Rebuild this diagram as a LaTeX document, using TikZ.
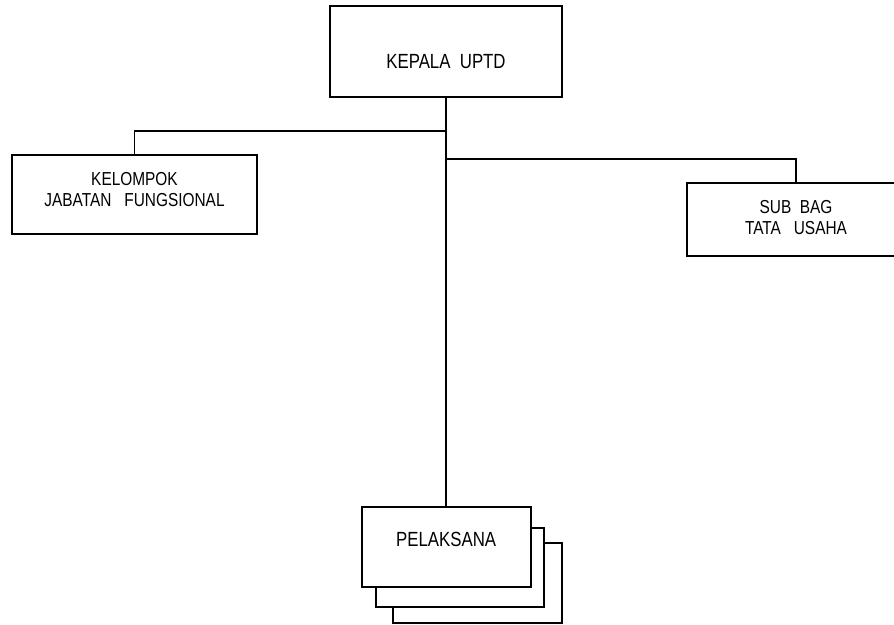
\documentclass[tikz,border=0pt]{standalone}
\usepackage{fontspec}
\setmainfont{Liberation Sans}
\newfontfamily\narrowsans[FakeStretch=0.82]{Liberation Sans}
\usetikzlibrary{calc}

\tikzset{
  unitbox/.style={draw=black, line width=1.8pt, fill=white, inner sep=0pt},
  lbl/.style={font=\narrowsans\fontsize{20.5}{21}\selectfont, align=center, inner sep=0pt, text=black},
  lblsmall/.style={font=\narrowsans\fontsize{18.8}{20.8}\selectfont, align=center, inner sep=0pt, text=black},
  link/.style={draw=black, line width=1.8pt}
}

\begin{document}
\begin{tikzpicture}[x=1pt, y=-1pt]
  \useasboundingbox (0,0) rectangle (894,624);
  \clip (0,0) rectangle (894,624);

  % head of the unit
  \node[unitbox, minimum width=232pt, minimum height=91pt] (kepala) at (446,51.2) {};
  \node[lbl] (kepalaText) at ($(kepala.center)+(0,10)$) {KEPALA\ \ UPTD};

  % functional group
  \node[unitbox, minimum width=245pt, minimum height=79pt] (kelompok) at (134.5,194.5) {};
  \node[lblsmall] (kelompokText) at ($(kelompok.center)+(0,-5)$) {KELOMPOK\\JABATAN\ \ \ FUNGSIONAL};

  % administration section
  \node[unitbox, minimum width=218pt, minimum height=72.7pt] (subbag) at (796,219.6) {};
  \node[lblsmall] (subbagText) at ($(subbag.center)+(0,-2)$) {SUB\ \ BAG\\TATA\ \ \ USAHA};

  % staff: three stacked sheets
  \node[unitbox, minimum width=168.5pt, minimum height=79.4pt] (pel3) at (477.5,583) {};
  \node[unitbox, minimum width=168pt, minimum height=79pt] (pel2) at (460,567.8) {};
  \node[unitbox, minimum width=169pt, minimum height=79.4pt] (pel1) at (446.2,547) {};
  \node[lbl] (pelText) at ($(pel1.center)+(0,-7.7)$) {PELAKSANA};

  % connectors
  \coordinate (jLeft) at (446,131);
  \coordinate (jRight) at (446,159);
  \draw[link] (kepala.south) -- (kepala.south |- pel1.north);
  \draw[link] (jLeft) -| (kelompok.north);
  \draw[link] (jRight) -| (subbag.north);
\end{tikzpicture}
\end{document}
